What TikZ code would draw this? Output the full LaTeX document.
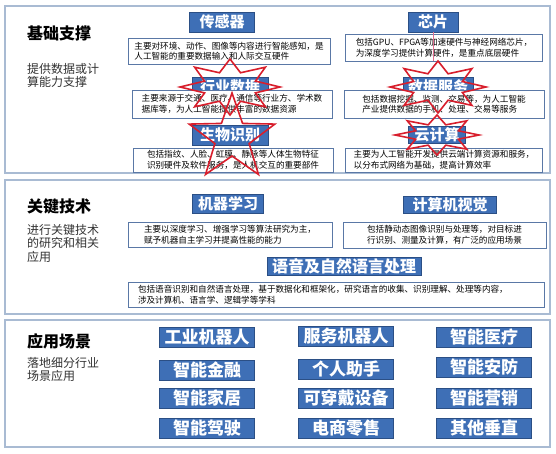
\documentclass[tikz,border=0pt]{standalone}
\usepackage{fontspec}
\setmainfont{Noto Sans CJK SC}
\definecolor{panelc}{HTML}{A9BBD3}
\definecolor{labelc}{HTML}{3E6FB6}
\definecolor{labeld}{HTML}{2B4F85}
\definecolor{descc}{HTML}{5A78A6}
\definecolor{markc}{HTML}{D81E2C}
\definecolor{pinkc}{HTML}{E07090}
% star outline: x, y, rx, ry, points, inner ratio
\newcommand{\burstat}[6]{%
  \draw[redline] plot[domain=0:2*#5-1, samples=2*#5, variable=\k]
    ({#1+((1+#6)/2+(1-#6)/2*cos(180*\k))*#3*cos(90+180*\k/#5)},
     {#2-((1+#6)/2+(1-#6)/2*cos(180*\k))*#4*sin(90+180*\k/#5)}) -- cycle;}

\begin{document}
\begin{tikzpicture}[x=1pt,y=-1pt,
  panel/.style={draw=panelc,line width=1.6pt,fill=white},
  title/.style={anchor=west,inner sep=0pt,font=\fontsize{16}{18}\selectfont\bfseries},
  sub/.style={anchor=north west,inner sep=0pt,align=left,text=black!80,font=\fontsize{12}{13.5}\selectfont},
  label/.style={fill=labelc,draw=labeld,line width=0.8pt,text=white,inner sep=0pt,
    minimum height=20pt,font=\fontsize{15}{16}\selectfont\bfseries},
  desc/.style={draw=descc,line width=0.9pt,fill=white,align=left,inner sep=0pt,
    font=\fontsize{8.6}{10.5}\selectfont},
  app/.style={label,minimum width=95pt,font=\fontsize{17}{18}\selectfont\bfseries},
  redline/.style={draw=markc,line width=1.6pt,line join=miter}]
   \useasboundingbox[fill=white] (0,0) rectangle (556,454);
   % three layers
   \draw[panel] (5,6) rectangle (550,173);
   \draw[panel] (5,180) rectangle (550,314);
   \draw[panel] (5,320) rectangle (550,447);

   % basic support
   \node[title] (t1) at (27,33) {基础支撑};
   \node[sub] (s1) at (27,63) {提供数据或计\\算能力支撑};
   \node[label,minimum width=65pt] (sensor) at (222,22) {传感器};
   \node[label,minimum width=50pt] (chip) at (433,22) {芯片};
   \node[desc,minimum width=202pt,minimum height=26pt] (d1) at (229,51)
     {主要对环境、动作、图像等内容进行智能感知，是\\人工智能的重要数据输入和人际交互硬件};
   \node[desc,minimum width=197pt,minimum height=27pt] (d2) at (444,48)
     {包括GPU、FPGA等加速硬件与神经网络芯片，\\为深度学习提供计算硬件，是重点底层硬件};
   \node[label,minimum width=76pt] (inddata) at (230,87) {行业数据};
   \node[label,minimum width=70pt] (dataserv) at (438,87) {数据服务};
   \node[desc,minimum width=200pt,minimum height=28pt] (d3) at (232,104)
     {主要来源于交通、医疗、通信等行业方、学术数\\据库等，为人工智能提供丰富的数据资源};
   \node[desc,minimum width=200pt,minimum height=28pt] (d4) at (444,104)
     {包括数据挖掘、监测、交易等，为人工智能\\产业提供数据的手机、处理、交易等服务};
   \node[label,minimum width=76pt] (bio) at (230,135) {生物识别};
   \node[label,minimum width=57pt,minimum height=17pt] (cloud) at (437,135) {云计算};
   \node[desc,minimum width=200pt,minimum height=24pt] (d5) at (233,160)
     {包括指纹、人脸、虹膜、静脉等人体生物特征\\识别硬件及软件服务，是人机交互的重要部件};
   \node[desc,minimum width=197pt,minimum height=24pt] (d6) at (444,160)
     {主要为人工智能开发提供云端计算资源和服务，\\以分布式网络为基础，提高计算效率};

   % key technology
   \node[title] (t2) at (27,207) {关键技术};
   \node[sub] (s2) at (27,224) {进行关键技术\\的研究和相关\\应用};
   \node[label,minimum width=71pt,minimum height=19pt] (ml) at (228,204) {机器学习};
   \node[label,minimum width=93pt,minimum height=17pt] (cv) at (450,205) {计算机视觉};
   \node[desc,minimum width=204pt,minimum height=25pt] (d7) at (230,234.5)
     {主要以深度学习、增强学习等算法研究为主，\\赋予机器自主学习并提高性能的能力};
   \node[desc,minimum width=203pt,minimum height=26pt] (d8) at (444.5,235)
     {包括静动态图像识别与处理等，对目标进\\行识别、测量及计算，有广泛的应用场景};
   \node[label,minimum width=154pt,minimum height=18pt,font=\fontsize{16}{17}\selectfont\bfseries]
     (nlp) at (344,266) {语音及自然语言处理};
   \node[desc,minimum width=416pt,minimum height=25pt,text width=396pt] (d9) at (336,294.5)
     {包括语音识别和自然语言处理，基于数据化和框架化，研究语言的收集、识别理解、处理等内容，\\涉及计算机、语言学、逻辑学等学科};

   % application scenes
   \node[title] (t3) at (27,341) {应用场景};
   \node[sub] (s3) at (27,357) {落地细分行业\\场景应用};
   \foreach \txt/\px/\py [count=\i] in {工业机器人/207/337,智能金融/207/370,智能家居/207/398,智能驾驶/207/428,
     服务机器人/346/336,个人助手/346/369,可穿戴设备/346/398,电商零售/346/428,
     智能医疗/484/337,智能安防/484/367,智能营销/484/398,其他垂直/484/428}
     \node[app] (app\i) at (\px,\py) {\txt};

   % red marks on top
   \draw[pinkc,line width=0.8pt] (chip.south) -- ++(0,29);
   \burstat{230}{87}{50}{28}{8}{0.55}
   \burstat{438}{87}{48}{26}{8}{0.55}
   \burstat{437}{135}{42}{20}{8}{0.55}
   \burstat{232}{138}{45}{45}{5}{0.4}
\end{tikzpicture}
\end{document}
